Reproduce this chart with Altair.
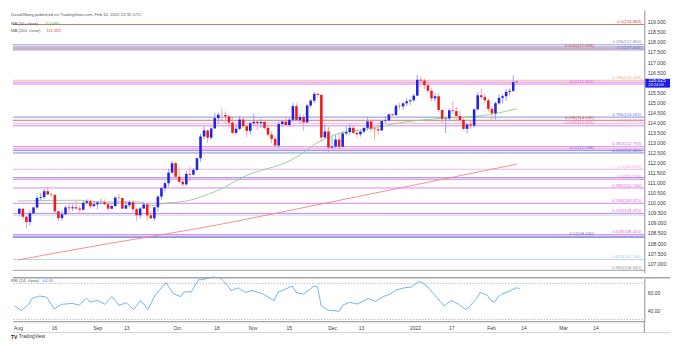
import altair as alt
import pandas as pd

# ---------------- data ----------------
day_index = list(range(-1, 140))  # trading day, 0 = 2021-08-02

opens = [
    109.47, 109.71, 109.31, 109.05, 109.48, 109.77, 110.24, 110.28, 110.58, 110.42,
    110.40, 109.58, 109.24, 109.43, 109.77, 109.73, 109.78, 109.72, 109.66, 110.00,
    110.08, 109.83, 109.93, 110.02, 110.03, 109.93, 109.71, 109.84, 110.26, 110.24,
    109.71, 109.88, 110.03, 109.68, 109.38, 109.72, 109.92, 109.38, 109.23, 109.78,
    110.31, 110.73, 110.98, 111.50, 111.97, 111.30, 111.05, 110.92, 111.44, 111.40,
    111.64, 112.22, 113.30, 113.60, 113.24, 113.70, 114.21, 114.38, 114.37, 114.30,
    113.99, 113.48, 113.68, 114.14, 113.81, 113.58, 113.96, 114.03, 113.96, 114.02,
    113.73, 113.39, 113.18, 112.85, 113.92, 114.04, 113.87, 114.13, 114.81, 114.11,
    114.27, 114.00, 114.84, 115.08, 115.42, 115.37, 113.25, 113.55, 112.75, 112.80,
    113.15, 112.79, 113.45, 113.52, 113.73, 113.48, 113.41, 113.54, 113.73, 114.05,
    113.69, 113.66, 113.60, 114.07, 114.10, 114.40, 114.36, 114.83, 114.80, 114.95,
    115.05, 115.10, 115.33, 116.12, 116.08, 115.85, 115.57, 115.20, 115.30, 114.62,
    114.18, 114.20, 114.60, 114.56, 114.32, 114.12, 113.68, 113.90, 113.84, 114.65,
    115.35, 115.26, 115.10, 114.67, 114.45, 114.95, 115.22, 115.30, 115.52, 115.57,
    116.00,
]
highs = [
    109.73, 109.69, 109.36, 109.65, 109.80, 110.37, 110.47, 110.68, 110.80, 110.50,
    110.43, 109.61, 109.63, 109.87, 109.95, 109.92, 110.11, 109.84, 110.09, 110.18,
    110.18, 110.09, 110.03, 110.19, 110.17, 110.01, 109.93, 110.34, 110.45, 110.24,
    110.09, 110.14, 110.17, 109.73, 109.81, 110.06, 109.94, 109.59, 109.79, 110.39,
    110.80, 111.07, 111.68, 112.08, 112.06, 111.65, 111.18, 111.59, 111.80, 111.73,
    112.25, 113.42, 113.80, 113.65, 113.78, 114.46, 114.46, 114.70, 114.55, 114.36,
    114.30, 113.92, 114.32, 114.23, 113.88, 114.01, 114.44, 114.10, 114.17, 114.08,
    113.89, 113.56, 113.30, 114.05, 114.12, 114.29, 114.23, 114.97, 114.96, 114.45,
    114.40, 114.92, 115.17, 115.52, 115.47, 115.39, 113.91, 113.77, 113.33, 113.37,
    113.48, 113.56, 113.80, 113.93, 113.83, 113.63, 113.62, 113.74, 114.25, 114.15,
    113.79, 113.89, 114.14, 114.30, 114.45, 114.45, 114.89, 114.97, 115.00, 115.18,
    115.16, 115.43, 116.35, 116.29, 116.19, 116.05, 115.69, 115.46, 115.45, 114.64,
    114.24, 114.71, 115.06, 114.76, 114.55, 114.22, 113.96, 114.05, 114.70, 115.50,
    115.69, 115.43, 115.20, 114.79, 115.04, 115.38, 115.40, 115.67, 115.68, 116.34,
    116.05,
]
lows = [
    109.36, 109.17, 108.72, 108.87, 109.45, 109.70, 110.15, 110.22, 110.39, 110.27,
    109.47, 109.11, 109.11, 109.40, 109.50, 109.59, 109.66, 109.51, 109.62, 109.92,
    109.71, 109.82, 109.69, 109.93, 109.90, 109.59, 109.69, 109.79, 110.02, 109.77,
    109.70, 109.79, 109.55, 109.11, 109.22, 109.70, 109.11, 109.20, 109.11, 109.56,
    110.17, 110.57, 110.81, 111.41, 111.23, 110.97, 110.82, 110.83, 111.07, 111.36,
    111.59, 112.05, 113.16, 112.98, 113.14, 113.68, 113.92, 114.03, 113.93, 113.73,
    113.41, 113.40, 113.60, 113.72, 113.26, 113.40, 113.82, 113.62, 113.71, 113.66,
    113.30, 112.95, 112.73, 112.72, 113.79, 113.80, 113.79, 114.02, 114.08, 113.93,
    113.59, 113.98, 114.74, 114.96, 115.21, 113.06, 113.24, 112.53, 112.67, 112.72,
    112.53, 112.76, 113.36, 113.36, 113.43, 113.26, 113.29, 113.44, 113.60, 113.55,
    113.14, 113.41, 113.58, 113.94, 114.05, 114.32, 114.33, 114.65, 114.61, 114.82,
    114.86, 115.02, 115.30, 115.79, 115.66, 115.45, 115.07, 115.04, 114.53, 113.96,
    113.48, 114.12, 114.43, 114.08, 114.01, 113.62, 113.46, 113.68, 113.75, 114.59,
    115.13, 114.94, 114.51, 114.15, 114.15, 114.89, 114.94, 115.07, 115.35, 115.51,
    115.99,
]
closes = [
    109.71, 109.31, 109.05, 109.48, 109.77, 110.24, 110.28, 110.58, 110.42, 110.40,
    109.58, 109.24, 109.43, 109.77, 109.73, 109.78, 109.72, 109.66, 110.00, 110.08,
    109.83, 109.93, 110.02, 110.03, 109.93, 109.71, 109.84, 110.26, 110.24, 109.71,
    109.88, 110.03, 109.68, 109.38, 109.72, 109.92, 109.38, 109.23, 109.78, 110.31,
    110.73, 110.98, 111.50, 111.97, 111.30, 111.05, 110.92, 111.44, 111.40, 111.64,
    112.22, 113.30, 113.60, 113.24, 113.70, 114.21, 114.38, 114.37, 114.30, 113.99,
    113.48, 113.68, 114.14, 113.81, 113.58, 113.96, 114.03, 113.96, 114.02, 113.73,
    113.39, 113.18, 112.85, 113.92, 114.04, 113.87, 114.13, 114.81, 114.11, 114.27,
    114.00, 114.84, 115.08, 115.42, 115.37, 113.25, 113.55, 112.75, 112.80, 113.15,
    112.79, 113.45, 113.52, 113.73, 113.48, 113.41, 113.54, 113.73, 114.05, 113.69,
    113.66, 113.60, 114.07, 114.10, 114.40, 114.36, 114.83, 114.80, 114.95, 115.05,
    115.10, 115.33, 116.12, 116.08, 115.85, 115.57, 115.20, 115.30, 114.62, 114.18,
    114.20, 114.60, 114.56, 114.32, 114.12, 113.68, 113.90, 113.84, 114.65, 115.35,
    115.26, 115.10, 114.67, 114.45, 114.95, 115.22, 115.30, 115.52, 115.57, 116.00,
    116.025,
]

ma50_index = [-1.4, 15, 24, 33, 36, 40, 46, 51, 57, 62, 76, 84, 89, 96, 105, 116, 127, 132, 139]
ma50_value = [110.09, 110.13, 110.04, 110.04, 109.86, 109.98, 110.09, 110.35, 110.80, 111.28,
              112.17, 113.10, 113.46, 113.64, 113.95, 114.18, 114.30, 114.41, 114.681]
ma200_index = [-1.4, 24, 51, 80, 110, 139]
ma200_value = [107.16, 107.97, 108.78, 109.80, 110.88, 111.925]

rsi_index = [-1, 1, 3, 4, 6, 8, 10, 12, 15, 17, 19, 20, 22, 24, 26, 28, 30, 32, 34, 36, 38,
             41, 43, 45, 46, 48, 50, 51, 54, 56, 58, 59, 61, 63, 65, 68, 70, 71, 72, 76, 77,
             79, 82, 83, 84, 86, 87, 89, 90, 92, 94, 97, 99, 101, 103, 105, 107, 109, 111,
             112, 114, 115, 117, 118, 120, 122, 124, 125, 127, 128, 130, 131, 132, 133, 134,
             136, 138, 139]
rsi_value = [45, 40, 47, 53.6, 56, 54.6, 41.6, 46.7, 47.7, 46, 53.6, 49.2, 51.2, 46.7, 55.3,
             45.7, 48.5, 41, 51.2, 41, 57, 70.7, 58.7, 55.3, 60.5, 60.5, 74, 74, 77, 76, 68,
             62, 65, 60, 62, 58, 53, 51, 60, 67, 60, 58, 67, 66, 45, 40, 40, 39, 46, 49, 47,
             53, 50, 55, 58, 63, 65, 66, 72, 71, 64, 59, 50, 45, 51, 47, 41, 44, 53, 60, 57,
             51, 49, 55, 58, 61, 65, 64.4]

fib_labels = ["0.5(118.869)", "0.236(117.862)", "", "0.618(117.693)", "0.5(117.606)",
              "0.786(116.093)", "", "0.5(115.907)",
              "0.786(114.261)", "0.236(114.105)", "0.5(113.956)", "0.618(113.831)",
              "0.382(112.790)", "", "0.5(112.598)", "0.618(112.481)",
              "0.5(111.670)", "", "0.5(111.170)", "0.382(110.740)",
              "0.786(109.975)", "0.236(109.470)", "", "0.618(108.420)", "0.5(108.340)", "",
              "0.618(107.180)", "0.382(106.645)"]
fib_prices = [118.869, 117.862, 117.760, 117.693, 117.606,
              116.093, 116.000, 115.907,
              114.261, 114.105, 113.956, 113.831,
              112.790, 112.680, 112.598, 112.481,
              111.670, 111.250, 111.170, 110.740,
              109.975, 109.470, 109.390, 108.420, 108.340, 108.280,
              107.180, 106.645]
fib_colors = ["#c8504a", "#7f86dc", "#7f86dc", "#c8504a", "#6a74d8",
              "#e2b48a", "#e35ee8", "#e35ee8",
              "#6a74d8", "#c8504a", "#ee9fd6", "#e35ee8",
              "#e35ee8", "#e35ee8", "#6a74d8", "#6a74d8",
              "#ee9ff0", "#6a74d8", "#e35ee8", "#e35ee8",
              "#e35ee8", "#e35ee8", "#a9cdf2", "#e35ee8", "#6a74d8", "#6a74d8",
              "#a9cdf2", "#8a8a8a"]

# 116.000 is covered by the live price box in the reference
price_ticks = [107.0, 107.5, 108.0, 108.5, 109.0, 109.5, 110.0, 110.5, 111.0, 111.5, 112.0,
               112.5, 113.0, 113.5, 114.0, 114.5, 115.0, 115.5, 116.5, 117.0, 117.5,
               118.0, 118.5, 119.0]
time_tick_index = [0, 10, 22, 30, 44, 55, 65, 75, 87, 95, 110, 120, 131, 140, 151, 160]
time_tick_text = ["Aug", "16", "Sep", "13", "Oct", "18", "Nov", "15", "Dec", "13", "2022",
                  "17", "Feb", "14", "Mar", "14"]

last_price = 116.025
ma50_last = "114.681"
ma200_last = "111.925"
rsi_last = "64.40"

# ---------------- layout ----------------
W, HM, HR = 639, 266, 43
XD = [-1.4, 173.5]
PD = [106.52, 119.59]
RD = [28.0, 75.1]
FONT = "Liberation Sans"
UP, DOWN = "#2222e6", "#ee1b1b"
WUP, WDOWN = "#8f92ee", "#f09a9a"
TXT = "#3a3a3a"
LBL_SIZE = 4.4
LEG_SIZE = 4.3

candles = pd.DataFrame({"i": day_index, "o": opens, "h": highs, "l": lows, "c": closes})
xs = alt.Scale(domain=XD, nice=False, zero=False)
ps = alt.Scale(domain=PD, nice=False, zero=False)
rs = alt.Scale(domain=RD, nice=False, zero=False)

paxis = alt.Axis(orient="right", values=price_ticks, format=".3f", labelFontSize=5.2,
                 labelFont=FONT, labelColor=TXT, ticks=False, labelPadding=3,
                 domainColor="#8a8d96", grid=False, title=None)
X = alt.X("i:Q", scale=xs, axis=None)

wicks = alt.Chart(candles).mark_rule(strokeWidth=0.9).encode(
    x=X, y=alt.Y("l:Q", scale=ps, axis=paxis), y2="h:Q",
    color=alt.condition("datum.c >= datum.o", alt.value(WUP), alt.value(WDOWN)))
bodies = alt.Chart(candles).mark_bar(size=2.6).encode(
    x=X, y=alt.Y("o:Q", scale=ps, axis=paxis), y2="c:Q",
    color=alt.condition("datum.c >= datum.o", alt.value(UP), alt.value(DOWN)))

fib = pd.DataFrame({"p": fib_prices, "lab": fib_labels, "col": fib_colors})

# label placement: stagger labels that sit too close together (layout only)
px_per_unit = HM / (PD[1] - PD[0])
lab_x = []
prev_y, prev_x = None, None
for p, lab in zip(fib_prices, fib_labels):
    y = (PD[1] - p) * px_per_unit
    if lab and prev_y is not None and abs(y - prev_y) < LBL_SIZE + 0.6:
        x = 588 if prev_x == 636 else 636
    else:
        x = 636
    lab_x.append(x)
    if lab:
        prev_y, prev_x = y, x
fib["lx"] = lab_x
fib_lab = fib[fib["lab"] != ""]

fib_rules = alt.Chart(fib).mark_rule(strokeWidth=0.9, opacity=0.9).encode(
    y=alt.Y("p:Q", scale=ps, axis=paxis), x=alt.value(0), x2=alt.value(W),
    color=alt.Color("col:N", scale=None))
fib_text = alt.Chart(fib_lab).mark_text(align="right", baseline="bottom", dy=-0.4,
                                        fontSize=LBL_SIZE, font=FONT).encode(
    y=alt.Y("p:Q", scale=ps, axis=paxis), x=alt.X("lx:Q", scale=None), text="lab:N",
    color=alt.Color("col:N", scale=None))

ma50 = alt.Chart(pd.DataFrame({"i": ma50_index, "v": ma50_value})).mark_line(
    color="#7fd77f", strokeWidth=0.9, interpolate="monotone").encode(
    x=X, y=alt.Y("v:Q", scale=ps, axis=paxis))
ma200 = alt.Chart(pd.DataFrame({"i": ma200_index, "v": ma200_value})).mark_line(
    color="#f2857f", strokeWidth=0.9, interpolate="monotone").encode(
    x=X, y=alt.Y("v:Q", scale=ps, axis=paxis))

# price box on the axis
box_df = pd.DataFrame({"top": [116.17], "bot": [115.73], "p": [last_price]})
pbox = alt.Chart(box_df).mark_rect(color="#1b1bf0").encode(
    x=alt.value(640), x2=alt.value(665),
    y=alt.Y("top:Q", scale=ps, axis=paxis), y2="bot:Q")
ptext = alt.Chart(box_df).mark_text(color="white", fontSize=5, font=FONT, align="left",
                                    dy=-1.2).encode(
    x=alt.value(643), y=alt.Y("p:Q", scale=ps, axis=paxis), text=alt.value("116.025"))
ctext = alt.Chart(box_df).mark_text(color="white", fontSize=4.0, font=FONT, align="left",
                                    dy=3.6).encode(
    x=alt.value(643), y=alt.Y("p:Q", scale=ps, axis=paxis), text=alt.value("23:24:03"))

hdr = pd.DataFrame({"x": [-2, -2, 32, -2, 34],
                    "y": [4.7, 13.9, 13.9, 20.8, 20.8],
                    "t": ["DavidJSong published on TradingView.com, Feb 10, 2022 22:35 UTC",
                          "MA (50, close)", ma50_last, "MA (200, close)", ma200_last],
                    "col": ["#555555", "#555555", "#3fbf3f", "#555555", "#e5403a"]})
header = alt.Chart(hdr).mark_text(align="left", baseline="middle", fontSize=LEG_SIZE,
                                  font=FONT).encode(
    x=alt.X("x:Q", scale=None), y=alt.Y("y:Q", scale=None), text="t:N",
    color=alt.Color("col:N", scale=None))

main = alt.layer(fib_rules, ma200, ma50, wicks, bodies, fib_text, pbox, ptext, ctext,
                 header).properties(width=W, height=HM)

# ---------------- RSI pane ----------------
label_expr = "[" + ",".join("'%s'" % t for t in time_tick_text) + "][indexof([" + \
    ",".join(str(v) for v in time_tick_index) + "], datum.value)]"
xaxis = alt.Axis(values=time_tick_index, labelExpr=label_expr, labelFontSize=5,
                 labelFont=FONT, labelColor=TXT, ticks=False, labelPadding=4,
                 domainColor="#8a8d96", grid=False, title=None, labelFlush=False)
raxis = alt.Axis(orient="right", values=[40, 60], format=".2f", labelFontSize=5,
                 labelFont=FONT, labelColor=TXT, ticks=False, labelPadding=3,
                 domainColor="#8a8d96", grid=False, title=None)
XR = alt.X("i:Q", scale=xs, axis=xaxis)

rsi_line = alt.Chart(pd.DataFrame({"i": rsi_index, "v": rsi_value})).mark_line(
    color="#5aaef2", strokeWidth=0.9).encode(x=XR, y=alt.Y("v:Q", scale=rs, axis=raxis))
bands = alt.Chart(pd.DataFrame({"lvl": [70, 30]})).mark_rule(
    color="#a8abb4", strokeDash=[1.5, 1.5], strokeWidth=0.8).encode(
    y=alt.Y("lvl:Q", scale=rs, axis=raxis), x=alt.value(0), x2=alt.value(W))
sep = alt.Chart(pd.DataFrame({"k": [0]})).mark_rule(color="#a0a3ab", strokeWidth=1.4).encode(
    x=alt.value(0), x2=alt.value(W + 26), y=alt.value(-1))
strip = alt.Chart(pd.DataFrame({"k": [0]})).mark_rule(color="#c8cad0", strokeWidth=0.8).encode(
    x=alt.value(0), x2=alt.value(W + 26), y=alt.value(HR + 11.4))
vline = alt.Chart(pd.DataFrame({"k": [0]})).mark_rule(color="#8a8d96", strokeWidth=1).encode(
    x=alt.value(W), y=alt.value(HR), y2=alt.value(HR + 11.4))
rl = pd.DataFrame({"x": [-2, 30], "y": [2.5, 2.5], "t": ["RSI (14, close)", rsi_last],
                   "col": ["#555555", "#3d9be9"]})
rsi_legend = alt.Chart(rl).mark_text(align="left", baseline="middle", fontSize=LEG_SIZE,
                                     font=FONT).encode(
    x=alt.X("x:Q", scale=None), y=alt.Y("y:Q", scale=None), text="t:N",
    color=alt.Color("col:N", scale=None))
logo_tv = alt.Chart(pd.DataFrame({"x": [-2], "y": [58.5], "t": ["TV"]})).mark_text(
    align="left", baseline="middle", fontSize=5, font=FONT, fontWeight="bold",
    color="#222222").encode(x=alt.X("x:Q", scale=None), y=alt.Y("y:Q", scale=None), text="t:N")
logo_name = alt.Chart(pd.DataFrame({"x": [6], "y": [58.5], "t": ["TradingView"]})).mark_text(
    align="left", baseline="middle", fontSize=4.8, font=FONT, color="#333333").encode(
    x=alt.X("x:Q", scale=None), y=alt.Y("y:Q", scale=None), text="t:N")

rsi = alt.layer(bands, rsi_line, sep, strip, vline, rsi_legend, logo_tv, logo_name).properties(
    width=W, height=HR)

chart = alt.vconcat(main, rsi, spacing=2).configure(
    padding={"left": 3, "top": 0, "right": 0, "bottom": 0}, background="white"
).configure_view(strokeWidth=0)

chart.save("out.html", embed_options={"renderer": "svg", "actions": False})
